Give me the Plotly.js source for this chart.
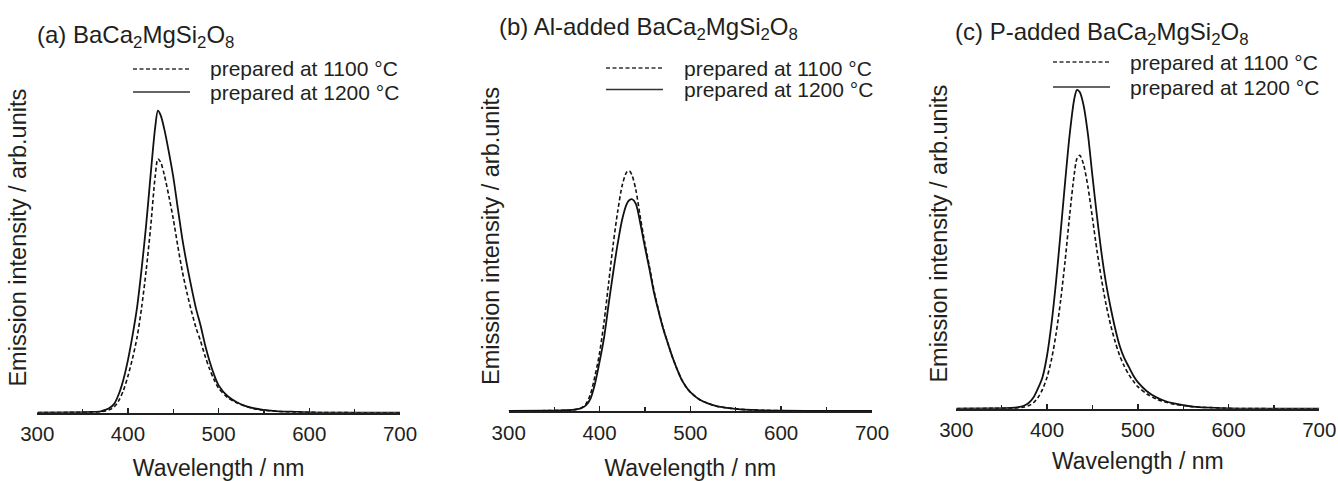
<!DOCTYPE html>
<html><head><meta charset="utf-8">
<script src="https://cdn.plot.ly/plotly-3.0.1.min.js"></script>
<style>html,body{margin:0;padding:0;background:#fff;} #chart{width:1338px;height:481px;}</style>
</head><body><div id="chart"></div>
<script>
// ---- data ----
const wavelength = [300,340,360,370,375,380,385,390,395,400,405,410,415,420,425,430,433,436,440,445,450,455,460,465,470,475,480,485,490,495,500,510,520,530,540,550,560,570,580,600,650,700];

// (a) BaCa2MgSi2O8
const a1100 = [0,0.001,0.001,0.003,0.005,0.009,0.017,0.035,0.064,0.105,0.155,0.215,0.300,0.405,0.530,0.675,0.725,0.716,0.680,0.620,0.553,0.475,0.403,0.343,0.290,0.243,0.205,0.162,0.125,0.094,0.070,0.043,0.028,0.018,0.011,0.007,0.005,0.003,0.002,0.001,0,0];
const a1200 = [0,0.001,0.002,0.004,0.008,0.014,0.026,0.054,0.095,0.151,0.220,0.300,0.410,0.535,0.680,0.815,0.863,0.850,0.811,0.746,0.673,0.583,0.496,0.423,0.358,0.298,0.250,0.194,0.147,0.108,0.078,0.047,0.030,0.019,0.012,0.008,0.005,0.003,0.003,0.001,0,0];

// (b) Al-added BaCa2MgSi2O8
const b1100 = [0,0.001,0.002,0.003,0.005,0.009,0.020,0.048,0.100,0.165,0.255,0.365,0.475,0.570,0.645,0.683,0.686,0.672,0.632,0.552,0.478,0.412,0.344,0.288,0.238,0.196,0.156,0.122,0.092,0.070,0.054,0.033,0.021,0.013,0.009,0.006,0.004,0.003,0.002,0.001,0,0];
const b1200 = [0,0.001,0.002,0.003,0.005,0.008,0.016,0.035,0.078,0.140,0.210,0.305,0.395,0.478,0.548,0.592,0.603,0.605,0.592,0.535,0.468,0.405,0.338,0.285,0.236,0.195,0.156,0.122,0.092,0.070,0.054,0.033,0.021,0.013,0.009,0.006,0.004,0.003,0.002,0.001,0,0];

// (c) P-added BaCa2MgSi2O8
const c1100 = [0,0.001,0.001,0.003,0.005,0.009,0.017,0.032,0.055,0.090,0.142,0.215,0.310,0.425,0.555,0.670,0.715,0.724,0.700,0.635,0.545,0.452,0.370,0.298,0.240,0.192,0.152,0.122,0.098,0.079,0.063,0.042,0.028,0.019,0.013,0.009,0.006,0.004,0.003,0.001,0,0];
const c1200 = [0,0.001,0.002,0.005,0.009,0.017,0.032,0.058,0.090,0.152,0.245,0.365,0.505,0.650,0.785,0.885,0.911,0.905,0.870,0.785,0.665,0.550,0.445,0.358,0.290,0.230,0.180,0.145,0.120,0.095,0.076,0.050,0.033,0.022,0.015,0.010,0.006,0.004,0.003,0.001,0,0];

const panelTitles = ['(a) BaCa<sub>2</sub>MgSi<sub>2</sub>O<sub>8</sub>',
                     '(b) Al-added BaCa<sub>2</sub>MgSi<sub>2</sub>O<sub>8</sub>',
                     '(c) P-added BaCa<sub>2</sub>MgSi<sub>2</sub>O<sub>8</sub>'];
const seriesNames = ['prepared at 1100 °C', 'prepared at 1200 °C'];
const xTicks = [300,400,500,600,700];
const xTitle = 'Wavelength / nm';
const yTitle = 'Emission intensity / arb.units';

// ---- layout helpers ----
const W = 1338, H = 481;
const px = v => v / W;
const py = v => 1 - v / H;
const INK = '#231f20';
const FONT = 'Liberation Sans, Arial, Helvetica, sans-serif';

const panels = [
  {x0:37.3, x1:400, base:412.7, data:[a1100,a1200], title:{x:35, y:36}, leg:{l0:133, l1:190, t:208, y1:69, y2:92}, ystand:3, xstand:22},
  {x0:508.7, x1:872, base:411, data:[b1100,b1200], title:{x:496.5, y:29}, leg:{l0:606, l1:663, t:682, y1:68, y2:89.5}, ystand:1, xstand:20},
  {x0:956.3, x1:1319.3, base:408.7, data:[c1100,c1200], title:{x:953, y:33.5}, leg:{l0:1053, l1:1110, t:1128, y1:62, y2:87}, ystand:0.3, xstand:13}
];

const traces = [];
const layout = {
  width: W, height: H,
  margin: {l:0, r:0, t:0, b:0},
  paper_bgcolor: '#fff', plot_bgcolor: '#fff',
  showlegend: false, hovermode: false,
  font: {family: FONT, color: INK},
  shapes: [], annotations: []
};

panels.forEach((p, i) => {
  const sx = i === 0 ? '' : String(i + 1);
  const xa = 'x' + sx, ya = 'y' + sx;
  const dashes = ['4px,2.5px', 'solid'];
  p.data.forEach((vals, k) => {
    traces.push({
      x: wavelength, y: vals, xaxis: xa, yaxis: ya,
      type: 'scatter', mode: 'lines', name: seriesNames[k],
      line: {color: '#111', width: k === 0 ? 1.6 : 1.8, dash: dashes[k], shape: 'spline', smoothing: 0.8},
      hoverinfo: 'skip'
    });
  });
  layout['xaxis' + sx] = {
    domain: [px(p.x0), px(p.x1)], anchor: ya, range: [300, 700],
    tickmode: 'array', tickvals: xTicks, ticktext: xTicks.map(String),
    ticks: 'inside', ticklen: 5, tickwidth: 1.5, tickcolor: INK,
    minor: {tickmode: 'array', tickvals: [350,450,550,650], ticks: 'inside', ticklen: 4, tickwidth: 1.2, tickcolor: INK, showgrid: false},
    showline: true, linewidth: 2, linecolor: INK,
    showgrid: false, zeroline: false, fixedrange: true,
    tickfont: {size: 20.5, color: INK, family: FONT},
    ticklabelstandoff: 2,
    title: {text: xTitle, font: {size: 23, color: INK, family: FONT}, standoff: p.xstand},
    automargin: false
  };
  layout['yaxis' + sx] = {
    domain: [py(p.base), py(p.base - 350)], anchor: xa, range: [0, 1],
    showline: false, showticklabels: false, ticks: '', showgrid: false, zeroline: false, fixedrange: true,
    title: {text: yTitle, font: {size: 23.5, color: INK, family: FONT}, standoff: p.ystand},
    automargin: false
  };
  layout.annotations.push({
    xref: 'paper', yref: 'paper', x: px(p.title.x), y: py(p.title.y),
    xanchor: 'left', yanchor: 'middle', showarrow: false,
    text: panelTitles[i], font: {size: 24, color: INK, family: FONT}
  });
  // legend samples
  [p.leg.y1, p.leg.y2].forEach((yy, k) => {
    layout.shapes.push({
      type: 'line', xref: 'paper', yref: 'paper',
      x0: px(p.leg.l0), x1: px(p.leg.l1), y0: py(yy), y1: py(yy),
      line: {color: '#333', width: 1.3, dash: k === 0 ? '4px,2.5px' : 'solid'}
    });
    layout.annotations.push({
      xref: 'paper', yref: 'paper', x: px(p.leg.t), y: py(yy),
      xanchor: 'left', yanchor: 'middle', showarrow: false,
      text: seriesNames[k], font: {size: 21, color: INK, family: FONT}
    });
  });
});

Plotly.newPlot('chart', traces, layout, {displayModeBar: false, staticPlot: true});
</script></body></html>
